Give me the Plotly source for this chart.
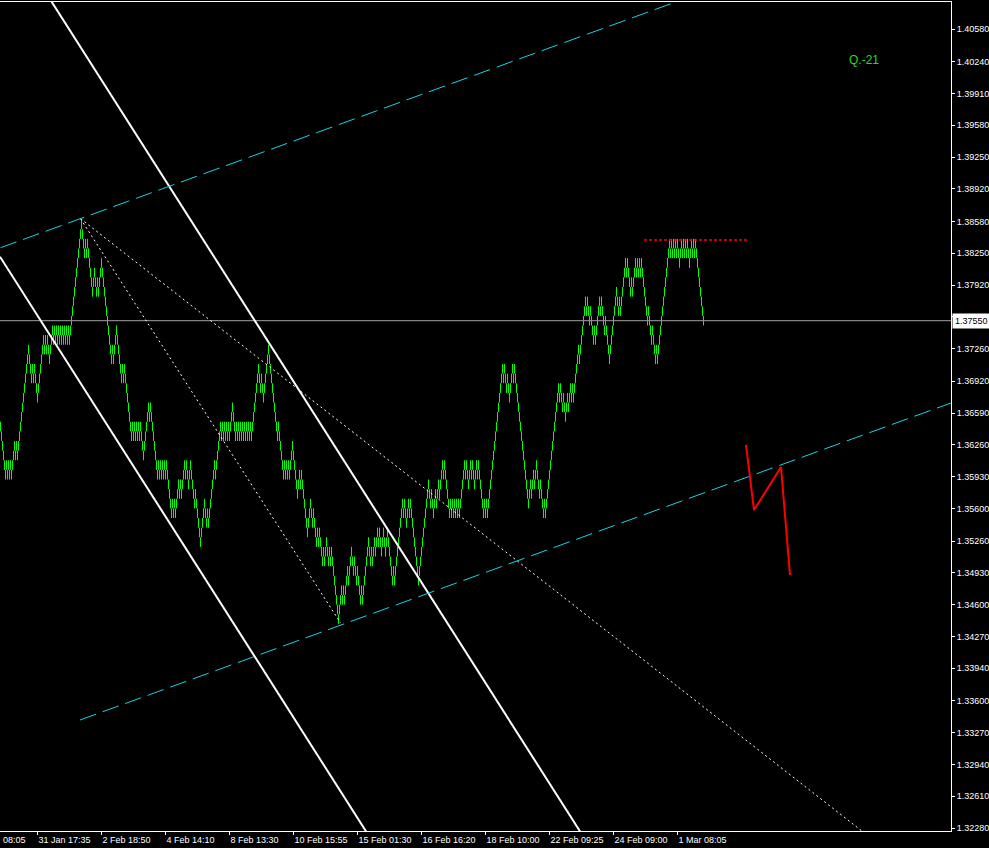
import plotly.graph_objects as go

# ---------------- data ----------------
BRICK = 0.0010          # renko brick size
start_top = 1.3650      # top of the first brick
# renko data: signed counts of consecutive bricks in one direction
brick_runs = [
    -5, 1, -1, 1, -1, 1, -1, 3, -1, 1, -1, 11,
    -3, 1, -1, 1, -3,
    6, -1, 1, -1, 1, -2,
    3, -1, 1, -1, 1, -1, 1, -1, 1, -1, 1, -1, 1, -1, 1, -1, 1, -1, 12,
    -3, 1, -1, 1, -5, 2, -2, 1, -1, 3,
    -10, 1, -1, 3, -5, 1, -1, 1,
    -7, 1, -1, 1, -1, 1, -1, 1, -1, 1,
    -3, 5, -1, 1, -7,
    1, -1, 1, -1, 1, -1, 1, -1, 1, -5,
    1, -1, 1, -1, 3,
    -1, 1, -1, 3,
    -1, 1, -2, 2,
    -4, 1, -5,
    4, -2, 1, -1,
    6, -1, 5,
    -1, 1, -1, 1, -1, 1, -1, 1, -1, 3,
    -3, 1, -1, 1, -1, 1, -1, 1, -1, 1, -1, 1, -1, 1, -1, 1, -1, 7,
    -2, 1, -2, 5,
    -9, 1, -5, 1, -1, 1, -1, 1, -1, 3,
    -5, 2, -1, 1, -6,
    3, -2, 1, -3, 1, -1, 1, -3, 1, -1, 2, -2, 1, -1, 1, -7,
    3, -1, 1, -1, 3, -1, 3, -2, 1, -2, 1, -3, 1, -1, 6,
    -2, 1, -1, 2, -1, 2, -1, 1, -2, 2, -2, 2, -5, 1, -1, 8,
    -1, 1, -2, 2, -1, 1, -8, 10,
    -2, 1, -2, 2, -1, 2, -1, 3, -1, 1, -5, 1, -1, 1, -1, 1, -1, 1, -1, 1, -1, 5,
    -1, 1, -2, 2, -1, 1, -2, 2, -1, 1, -5, 1, -1, 1, -1, 15,
    -1, 1, -2, 1, -2, 3, -1, 1, -14,
    2, -1, 2, -1, 2, -3, 1, -3, 1, -1, 13,
    -1, 1, -2, 1, -2, 2, -1, 2, -1, 1, -1, 5, -1, 6, -1, 1,
    -2, 1, -3, 1, -1, 4, -1, 1, -3, 1, -4,
    7, -2, 1, -1, 5, -1, 1,
    -3, 1, -1, 3, -1, 1, -1, 1, -1, 1,
    -6, 1, -3, 1, -3, 1, -1, 12,
    -1, 1, -1, 1, -1, 1, -1, 1, -2, 2, -1, 1, -1, 1, -1, 1, -2, 2, -1, 1, -1, 1,
    -8,
]

bid_price = 1.37550

# price-axis labels
y_ticks = [1.40580, 1.40240, 1.39910, 1.39580, 1.39250, 1.38920, 1.38580,
           1.38250, 1.37920, 1.37590, 1.37260, 1.36920, 1.36590, 1.36260,
           1.35930, 1.35600, 1.35260, 1.34930, 1.34600, 1.34270, 1.33940,
           1.33600, 1.33270, 1.32940, 1.32610, 1.32280]
# time-axis labels (bar index -> label)
x_tick_bars = [37, 101, 165, 229, 293, 357, 421, 485, 549, 613, 677]
x_tick_labels = ["31 Jan 17:35", "2 Feb 18:50", "4 Feb 14:10", "8 Feb 13:30",
                 "10 Feb 15:55", "15 Feb 01:30", "16 Feb 16:20", "18 Feb 10:00",
                 "22 Feb 09:25", "24 Feb 09:00", "1 Mar 08:05"]
first_label = "08:05"

# trend objects (bar index, price)
upper_channel_x = [0, 720]
upper_channel_y = [1.38308, 1.41030]
lower_channel_x = [79.5, 950.5]
lower_channel_y = [1.33402, 1.36695]
desc_line_a_x = [-0.5, 400]
desc_line_a_y = [1.38215, 1.31683]
desc_line_b_x = [0, 600]
desc_line_b_y = [1.41697, 1.31911]
dotted_1_x = [80, 340]
dotted_1_y = [1.3861, 1.3441]
dotted_2_x = [80, 880]
dotted_2_y = [1.3861, 1.32097]
red_level_x = [643.5, 748]
red_level_y = [1.38388, 1.38388]
red_path_x = [745.5, 753.5, 780.5, 789.5]
red_path_y = [1.36259, 1.35583, 1.36030, 1.34908]
label_text = "Q.-21"

# ---------------- build renko bars ----------------
tops = [start_top]
for r in brick_runs:
    step = BRICK if r > 0 else -BRICK
    for _ in range(abs(r)):
        tops.append(round(tops[-1] + step, 4))

bx, by = [], []
for i, t in enumerate(tops):
    bx += [i, i, None]
    by += [t - BRICK, t, None]

fig = go.Figure()
fig.add_trace(go.Scatter(x=bx, y=by, mode="lines",
                         line=dict(color="#00ff00", width=1),
                         hoverinfo="skip", showlegend=False))

def add_line(x, y, color, width, dash="solid"):
    fig.add_trace(go.Scatter(x=x, y=y, mode="lines",
                             line=dict(color=color, width=width, dash=dash),
                             hoverinfo="skip", showlegend=False))

add_line(desc_line_a_x, desc_line_a_y, "#ffffff", 2)
add_line(desc_line_b_x, desc_line_b_y, "#ffffff", 2)
add_line(dotted_1_x, dotted_1_y, "#ffffff", 1, "2px,3px")
add_line(dotted_2_x, dotted_2_y, "#ffffff", 1, "2px,3px")
add_line(upper_channel_x, upper_channel_y, "#14d4e4", 1, "17px,7px")
add_line(lower_channel_x, lower_channel_y, "#14d4e4", 1, "17px,7px")
add_line(red_level_x, red_level_y, "#ff0000", 1.5, "3px,2px")
add_line(red_path_x, red_path_y, "#ff0000", 2)

font_axis = dict(family="Liberation Sans, Arial, sans-serif", size=9, color="#ffffff")

fig.update_layout(
    width=989, height=848,
    margin=dict(l=0, r=38, t=2, b=17, pad=0),
    paper_bgcolor="#000000", plot_bgcolor="#000000",
    showlegend=False,
    hovermode=False,
    xaxis=dict(range=[-0.5, 950.5], showgrid=False, zeroline=False,
               showline=True, linecolor="#ffffff", linewidth=1, mirror=True,
               ticks="outside", ticklen=3, tickcolor="#ffffff", tickwidth=1,
               tickvals=x_tick_bars, ticktext=x_tick_labels,
               ticklabelposition="outside right",
               tickfont=font_axis, automargin=False, fixedrange=True),
    yaxis=dict(range=[1.322488, 1.408605], side="right", showgrid=False,
               zeroline=False, showline=True, linecolor="#ffffff", linewidth=1,
               ticks="outside", ticklen=3, tickcolor="#ffffff", tickwidth=1,
               tickvals=y_ticks, ticktext=[f"{v:.5f}" for v in y_ticks],
               tickfont=font_axis, automargin=False, fixedrange=True),
    shapes=[dict(type="line", xref="paper", x0=0, x1=1, yref="y",
                 y0=bid_price, y1=bid_price, layer="below",
                 line=dict(color="#a0a0a0", width=1))],
    annotations=[
        dict(xref="paper", x=1, yref="y", y=bid_price, text=f"{bid_price:.5f}",
             showarrow=False, xanchor="left", yanchor="middle", xshift=1,
             bgcolor="#ffffff", borderpad=2,
             font=dict(family="Liberation Sans, Arial, sans-serif", size=9, color="#000000")),
        dict(xref="paper", x=0, yref="paper", y=-0.0105, text=first_label,
             showarrow=False, xanchor="left", yanchor="middle", xshift=1,
             font=font_axis),
        dict(xref="paper", x=0.8906, yref="paper", y=0.930, text=label_text,
             showarrow=False, xanchor="left", yanchor="middle",
             font=dict(family="Liberation Sans, Arial, sans-serif", size=12, color="#22dd22")),
    ],
)

fig.write_html("out.html", config={"displayModeBar": False},
               post_script="document.body.style.margin='0';document.body.style.overflow='hidden';")
